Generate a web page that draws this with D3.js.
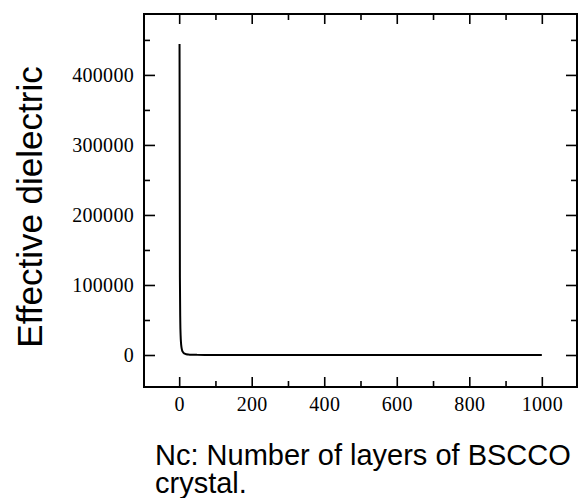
<!DOCTYPE html>
<html><head><meta charset="utf-8">
<script src="https://cdn.jsdelivr.net/npm/d3@7"></script>
<style>body{margin:0;background:#fff}svg{display:block}</style>
</head><body>
<script>
const nc = [1,2,3,4,5,6,7,8,10,12,15,20,25,30,40,50,75,100,150,200,300,400,500,600,700,800,900,1000];
const eps = [444000,111000,49300,27700,17800,12300,9100,6900,4440,3080,1970,1110,710,490,280,180,80,44,20,11,5,3,2,1,1,1,0,0];
const xTicks = [0,200,400,600,800,1000];
const xMinor = [100,300,500,700,900];
const yTicks = [0,100000,200000,300000,400000];
const yMinor = [50000,150000,250000,350000,450000];
const xTitle = ["Nc: Number of layers of BSCCO","crystal."];
const yTitle = "Effective dielectric";

const W=579,H=498;
const L=144,R=577,T=14,B=387;
const svg=d3.select("body").append("svg").attr("width",W).attr("height",H);
const x=d3.scaleLinear().domain([-97,1097]).range([L,R]);
const y=d3.scaleLinear().domain([-45700,487000]).range([B,T]);

const tickFont="Liberation Serif, DejaVu Serif, Times New Roman, serif";
function drawAxis(axisGen, transform, showLabels){
  const g=svg.append("g").attr("transform",transform).call(axisGen);
  g.attr("font-family",null).attr("font-size",null);
  g.select(".domain").remove();
  g.selectAll("line").attr("stroke","#000").attr("stroke-width",1.6);
  g.selectAll("text").style("font-family",tickFont).style("font-size","20px").attr("fill","#000").attr("letter-spacing","0.3px");
  if(!showLabels) g.selectAll("text").remove();
  return g;
}
// bottom
drawAxis(d3.axisBottom(x).tickValues(xTicks).tickSize(-10).tickPadding(10).tickFormat(d3.format("d")),`translate(0,${B})`,true);
drawAxis(d3.axisBottom(x).tickValues(xMinor).tickSize(-6).tickFormat(""),`translate(0,${B})`,false);
// top
drawAxis(d3.axisTop(x).tickValues(xTicks).tickSize(-10).tickFormat(""),`translate(0,${T})`,false);
drawAxis(d3.axisTop(x).tickValues(xMinor).tickSize(-6).tickFormat(""),`translate(0,${T})`,false);
// left
drawAxis(d3.axisLeft(y).tickValues(yTicks).tickSize(-11).tickPadding(10).tickFormat(d3.format("d")),`translate(${L},0)`,true);
drawAxis(d3.axisLeft(y).tickValues(yMinor).tickSize(-6).tickFormat(""),`translate(${L},0)`,false);
// right
drawAxis(d3.axisRight(y).tickValues(yTicks).tickSize(-11).tickFormat(""),`translate(${R},0)`,false);
drawAxis(d3.axisRight(y).tickValues(yMinor).tickSize(-6).tickFormat(""),`translate(${R},0)`,false);

svg.append("rect").attr("x",L).attr("y",T).attr("width",R-L).attr("height",B-T)
  .attr("fill","none").attr("stroke","#000").attr("stroke-width",2);

const line=d3.line().x((d,i)=>x(nc[i])).y(d=>y(d)).curve(d3.curveMonotoneX);
svg.append("path").datum(eps).attr("d",line).attr("fill","none").attr("stroke","#000").attr("stroke-width",2);

const sans="Liberation Sans, Arial, sans-serif";
svg.append("text").attr("transform","translate(42,207) rotate(-90)").attr("text-anchor","middle")
  .style("font-family",sans).style("font-size","35px").attr("fill","#000").text(yTitle);
svg.append("text").attr("x",155).attr("y",465).style("font-family",sans).style("font-size","29px").attr("fill","#000").text(xTitle[0]);
svg.append("text").attr("x",155).attr("y",493).style("font-family",sans).style("font-size","29px").attr("fill","#000").text(xTitle[1]);
</script>
</body></html>
